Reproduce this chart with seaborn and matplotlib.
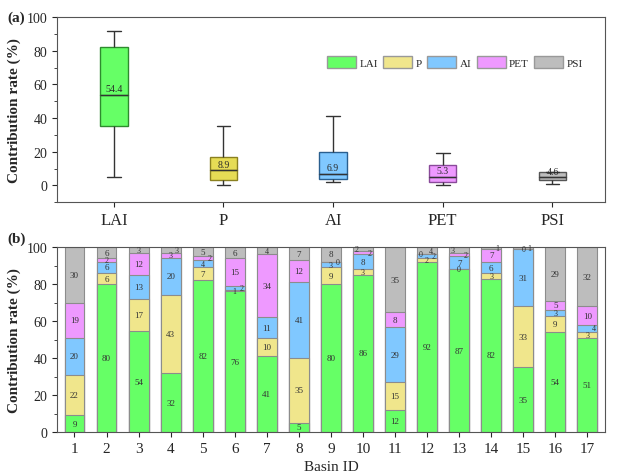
import numpy as np
import pandas as pd
import matplotlib
matplotlib.use("Agg")
import matplotlib.pyplot as plt
from matplotlib.patches import Patch
from matplotlib.ticker import MultipleLocator
import seaborn as sns

# contribution rate (%) of each factor per basin
basins = [str(i) for i in range(1, 18)]
lai = [9, 80, 54, 32, 82, 76, 41, 5, 80, 86, 12, 92, 87, 82, 35, 54, 51]
p   = [22, 6, 17, 43, 7, 1, 10, 35, 9, 3, 15, 2, 0, 3, 33, 9, 3]
ai  = [20, 6, 13, 20, 4, 2, 11, 41, 3, 8, 29, 2, 7, 6, 31, 3, 4]
pet = [19, 2, 12, 3, 2, 15, 34, 12, 0, 2, 8, 0, 2, 7, 0, 5, 10]
psi = [30, 6, 3, 3, 5, 6, 4, 7, 8, 2, 35, 4, 3, 1, 1, 29, 32]

factors = ["LAI", "P", "AI", "PET", "PSI"]
median_labels = ["54.4", "8.9", "6.9", "5.3", "4.6"]

bar_colors = ["#66ff66", "#f0e68c", "#80c8ff", "#ee99ff", "#bdbdbd"]
box_colors = ["#66ff66", "#e6dc55", "#80c8ff", "#ee99ff", "#bdbdbd"]
edge_colors = ["#2e8b2e", "#8a8020", "#2a5f8f", "#8a4a9a", "#555555"]

df = pd.DataFrame({"Basin": basins, "LAI": lai, "P": p, "AI": ai, "PET": pet, "PSI": psi})
long = df.melt(id_vars="Basin", var_name="Factor", value_name="Rate")

sns.set_style("ticks")
plt.rcParams["font.family"] = ["Liberation Serif", "DejaVu Serif"]

fig = plt.figure(figsize=(6.18, 4.77), dpi=100)
ax1 = fig.add_axes([0.092, 0.574, 0.887, 0.388])
ax2 = fig.add_axes([0.092, 0.092, 0.887, 0.388])

############################################################
# (a) box plot
############################################################
sns.boxplot(data=long, x="Factor", y="Rate", hue="Factor", order=factors,
            hue_order=factors, palette=box_colors, width=0.25, showfliers=False,
            whis=1.5, linewidth=1, saturation=1, legend=False, ax=ax1)
for i, patch in enumerate(ax1.patches):
    patch.set_edgecolor(edge_colors[i])
for line in ax1.lines:
    line.set_color("#333333")
for i, f in enumerate(factors):
    m = np.median(df[f])
    ax1.plot([i - 0.125, i + 0.125], [m, m], color=edge_colors[i], lw=1)
    ax1.text(i, float(median_labels[i]) + 0.8, median_labels[i], ha="center",
             va="bottom", fontsize=7, color="#2a2a2a")

ax1.set_ylim(-10, 100)
ax1.set_xlim(-0.52, 4.48)
ax1.yaxis.set_major_locator(MultipleLocator(20))
ax1.yaxis.set_minor_locator(MultipleLocator(10))
ax1.set_xlabel("")
ax1.set_ylabel("Contribution rate (%)", fontsize=11, fontweight="bold")
ax1.tick_params(axis="x", labelsize=12)
ax1.tick_params(axis="y", labelsize=10)
for s in ax1.spines.values():
    s.set_visible(True)
    s.set_color("#555555")

handles = [Patch(facecolor=c, edgecolor="#999999", label=f) for c, f in zip(bar_colors, factors)]
ax1.legend(handles=handles, ncol=5, loc="center", bbox_to_anchor=(0.726, 0.757),
           frameon=False, fontsize=8, handlelength=2.6, handleheight=1.2,
           columnspacing=0.5, handletextpad=0.3)
fig.text(0.012, 0.955, "(a)", fontsize=11, fontweight="bold")

############################################################
# (b) stacked bars (rounded shares rescaled so each bar closes at 100)
############################################################
share = df[factors].div(df[factors].sum(axis=1), axis=0) * 100
cum = share.cumsum(axis=1)
for k in range(len(factors) - 1, -1, -1):
    sns.barplot(x=df["Basin"], y=cum[factors[k]], color=bar_colors[k], width=0.62,
                edgecolor="#8c8c8c", linewidth=0.8, saturation=1, ax=ax2)

for i in range(len(basins)):
    shift = 0
    for k, f in enumerate(factors):
        val = df[f][i]
        mid = cum[f][i] - share[f][i] / 2
        if share[f][i] < 4.5:
            dx = [0, 0.2, -0.2, 0.1][shift % 4]
            shift += 1
        else:
            dx = 0
        ax2.text(i + dx, mid, str(val), ha="center", va="center",
                 fontsize=6.5 if val >= 5 else 5.8, color="#333333")

ax2.set_ylim(0, 100)
ax2.set_xlim(-0.55, 16.55)
ax2.yaxis.set_major_locator(MultipleLocator(20))
ax2.yaxis.set_minor_locator(MultipleLocator(10))
ax2.set_xlabel("Basin ID", fontsize=11)
ax2.set_ylabel("Contribution rate (%)", fontsize=11, fontweight="bold")
ax2.tick_params(axis="x", labelsize=11)
ax2.tick_params(axis="y", labelsize=10)
for s in ax2.spines.values():
    s.set_visible(True)
    s.set_color("#555555")
fig.text(0.012, 0.49, "(b)", fontsize=11, fontweight="bold")

fig.savefig("out.png", dpi=100)
